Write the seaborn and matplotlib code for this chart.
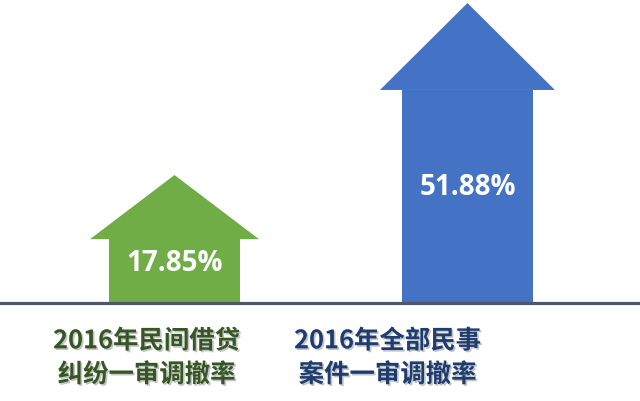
import matplotlib
matplotlib.use("Agg")
import matplotlib.pyplot as plt
import matplotlib.patheffects as pe
from matplotlib.patches import Polygon
import seaborn as sns
import pandas as pd

# Data
categories = ["2016年民间借贷\n纠纷一审调撤率", "2016年全部民事\n案件一审调撤率"]
rates = [17.85, 51.88]
value_labels = ["17.85%", "51.88%"]

# Styling
arrow_colors = ["#70ad47", "#4472c4"]
label_colors = ["#375623", "#1f3c6e"]
head_heights = [12.7, 17.2]
head_widths = [0.577, 0.597]
body_width = 0.45
BASE = -7.5

sns.set_theme(style="white")
plt.rcParams["font.family"] = ["Noto Sans CJK SC", "DejaVu Sans"]

fig = plt.figure(figsize=(6.40, 4.01), dpi=100)
ax = fig.add_axes([0, 0, 1, 1])

df = pd.DataFrame({"cat": categories, "body": [r - h - BASE for r, h in zip(rates, head_heights)]})
sns.barplot(data=df, x="cat", y="body", hue="cat", palette=arrow_colors,
            width=body_width, bottom=BASE, legend=False, ax=ax,
            linewidth=0, saturation=1)

# arrow heads
for i, (r, h, w, c) in enumerate(zip(rates, head_heights, head_widths, arrow_colors)):
    base_y = r - h
    ax.add_patch(Polygon([[i - w / 2, base_y], [i + w / 2, base_y], [i, r]],
                         closed=True, facecolor=c, edgecolor="none", zorder=3))

ax.set_xlim(-0.5956, 1.589)
ax.set_ylim(-26.87, 52.48)
ax.axhline(BASE, color="#4d586b", linewidth=2.3, zorder=4)

# values inside the arrows
val_y = [0.25, 15.3]
for i, (txt, y) in enumerate(zip(value_labels, val_y)):
    ax.text(i, y, txt, color="white", fontsize=20, fontweight="bold",
            family=["Open Sans", "DejaVu Sans"], ha="center", va="center", zorder=5)

# category labels
label_x = [-0.0956, 0.727]
for i, (cat, col) in enumerate(zip(categories, label_colors)):
    ax.text(label_x[i], -18.3, cat, color=col, fontsize=18.3, fontweight="bold",
            ha="center", va="center", linespacing=1.32, zorder=5,
            path_effects=[pe.withSimplePatchShadow(offset=(1.2, -1.2), shadow_rgbFace="#9aa0a6", alpha=0.6)])

ax.axis("off")
fig.savefig("out.png", dpi=100)
